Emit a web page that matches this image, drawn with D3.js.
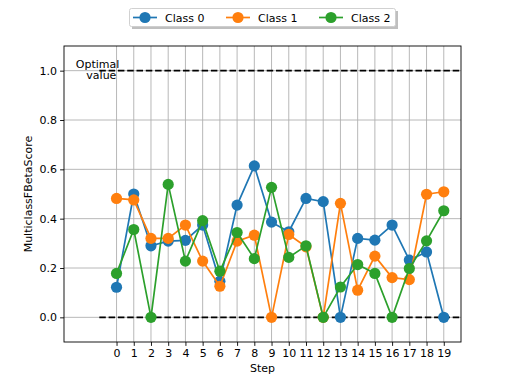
<!DOCTYPE html>
<html><head><meta charset="utf-8">
<script src="https://cdn.jsdelivr.net/npm/d3@7"></script>
<style>body{margin:0;background:#fff}svg text{font-family:"DejaVu Sans",sans-serif}</style>
</head><body>
<svg id="c" width="512" height="384"></svg>
<script>
const steps = d3.range(0, 20);
const seriesNames = ["Class 0", "Class 1", "Class 2"];
const class0 = [0.122,0.50,0.29,0.309,0.312,0.374,0.146,0.455,0.614,0.386,0.347,0.482,0.469,0.0,0.32,0.313,0.374,0.232,0.265,0.0];
const class1 = [0.482,0.476,0.32,0.32,0.374,0.228,0.126,0.309,0.333,0.0,0.336,0.286,0.0,0.462,0.11,0.248,0.161,0.153,0.499,0.509];
const class2 = [0.178,0.356,0.0,0.539,0.228,0.392,0.187,0.344,0.238,0.527,0.243,0.29,0.0,0.123,0.214,0.178,0.0,0.198,0.31,0.432];
const yTicks = [0.0,0.2,0.4,0.6,0.8,1.0];
const colors = ["#1f77b4","#ff7f0e","#2ca02c"];
const refLines = [1.0, 0.0];

const svg = d3.select("#c");
const L=64, R=461, T=46, B=342;
const x = d3.scaleLinear().domain([-3.05, 20]).range([L, R]);
const y = d3.scaleLinear().domain([-0.1, 1.1]).range([B, T]);

// grid
const g = svg.append("g");
g.selectAll("line.vg").data(steps).join("line")
  .attr("x1", d=>x(d)).attr("x2", d=>x(d)).attr("y1", T).attr("y2", B)
  .attr("stroke", "#b0b0b0").attr("stroke-width", 0.9);
g.selectAll("line.hg").data(yTicks).join("line")
  .attr("x1", L).attr("x2", R).attr("y1", d=>y(d)).attr("y2", d=>y(d))
  .attr("stroke", "#b0b0b0").attr("stroke-width", 0.9);

// reference dashed lines
svg.selectAll("line.ref").data(refLines).join("line")
  .attr("x1", x(-1)).attr("x2", x(20)).attr("y1", d=>y(d)).attr("y2", d=>y(d))
  .attr("stroke", "#000").attr("stroke-width", 1.9).attr("stroke-dasharray", "6.5,2.8");

// optimal value text
const ot = svg.append("text").attr("x", x(-1)).attr("y", y(1.0)).attr("text-anchor","middle")
  .attr("font-size", 11).attr("fill", "#000");
ot.append("tspan").attr("x", x(-1.1)).attr("dy", "-3").text("Optimal");
ot.append("tspan").attr("x", x(-0.88)).attr("dy", "11.5").text("value");

// series
const data = [class0, class1, class2];
const line = d3.line().x((d,i)=>x(steps[i])).y(d=>y(d));
data.forEach((s, k) => {
  svg.append("path").datum(s).attr("d", line).attr("fill","none")
    .attr("stroke", colors[k]).attr("stroke-width", 1.7);
  svg.selectAll("circle.s"+k).data(s).join("circle")
    .attr("cx", (d,i)=>x(steps[i])).attr("cy", d=>y(d)).attr("r", 5.6)
    .attr("fill", colors[k]);
});

// axes
const xAxis = d3.axisBottom(x).tickValues(steps).tickSize(3.9).tickPadding(3).tickFormat(d3.format("d"));
const yAxis = d3.axisLeft(y).tickValues(yTicks).tickSize(3.9).tickPadding(3).tickFormat(d3.format(".1f"));
const xa = svg.append("g").attr("transform", `translate(0,${B})`).call(xAxis);
const ya = svg.append("g").attr("transform", `translate(${L},0)`).call(yAxis);
[xa, ya].forEach(a => {
  a.select(".domain").remove();
  a.selectAll("text").attr("font-size", 11).attr("fill", "#000").style("font-family", "DejaVu Sans");
  a.selectAll("line").attr("stroke", "#000").attr("stroke-width", 0.9);
});
svg.append("rect").attr("x", L).attr("y", T).attr("width", R-L).attr("height", B-T)
  .attr("fill", "none").attr("stroke", "#000").attr("stroke-width", 0.9);

svg.append("text").attr("x", (L+R)/2).attr("y", 372).attr("text-anchor","middle")
  .attr("font-size", 11).text("Step");
svg.append("text").attr("transform", `translate(32,${(T+B)/2}) rotate(-90)`).attr("text-anchor","middle")
  .attr("font-size", 11).text("MulticlassFBetaScore");

// legend
const lg = svg.append("g");
lg.append("rect").attr("x", 132).attr("y", 11).attr("width", 266).attr("height", 18)
  .attr("fill", "#808080").attr("opacity", 0.5);
lg.append("rect").attr("x", 129.5).attr("y", 8.5).attr("width", 266).attr("height", 18)
  .attr("fill", "#fff").attr("stroke", "#cccccc").attr("stroke-width", 0.9).attr("rx", 2);
const lx = [133, 226, 319];
seriesNames.forEach((n, k) => {
  lg.append("line").attr("x1", lx[k]).attr("x2", lx[k]+24).attr("y1", 17.5).attr("y2", 17.5)
    .attr("stroke", colors[k]).attr("stroke-width", 1.7);
  lg.append("circle").attr("cx", lx[k]+12).attr("cy", 17.5).attr("r", 5.6).attr("fill", colors[k]);
  lg.append("text").attr("x", lx[k]+32).attr("y", 21.5).attr("font-size", 11).text(n);
});
</script>
</body></html>
